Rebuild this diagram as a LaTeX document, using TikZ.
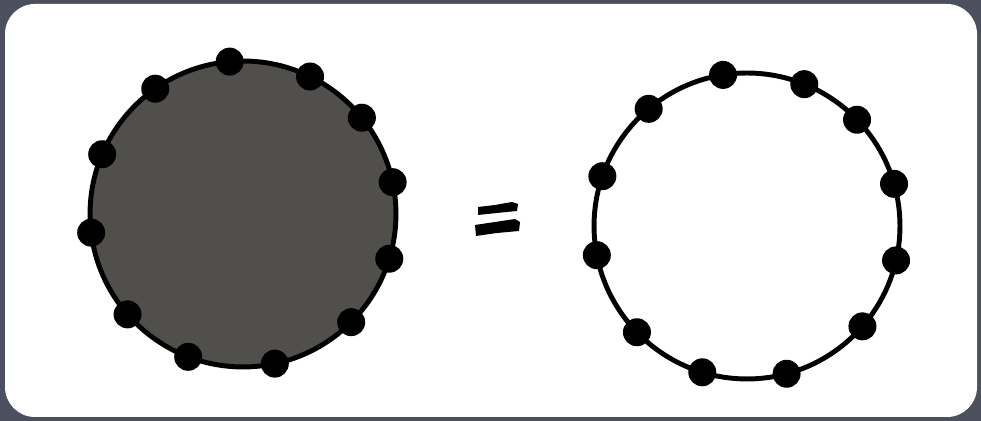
\documentclass[tikz,border=0pt]{standalone}
\usetikzlibrary{positioning}
\definecolor{slate}{RGB}{76,80,94}
\definecolor{disc}{RGB}{80,79,75}
\tikzset{
  bead/.style={circle,fill=black,inner sep=0pt,minimum size=0.56cm},
  ring/.style={line width=2.8pt}
}
\begin{document}
\begin{tikzpicture}[x=0.02cm,y=-0.02cm]
\fill[slate] (0,0) rectangle (981,421);
\fill[white,rounded corners=0.6cm] (5,4) rectangle (977,417);
\coordinate (lc) at (243,214);
\coordinate (rc) at (747,226);
\draw[ring,fill=disc] (lc) circle[radius=3.06cm];
\draw[ring] (rc) circle[radius=3.06cm];
\foreach \a [count=\i] in {95,64,39,12,-17,-45,-78,-111,-139,-173,157,125}
  \node[bead] (l\i) at ([shift={(\a:3.06cm)}]lc) {};
\foreach \a [count=\i] in {99,68,44,16,-13,-41,-75,-107,-136,-169,161,130}
  \node[bead] (r\i) at ([shift={(\a:3.06cm)}]rc) {};
\fill (478,207) -- (495,205) -- (512,202) -- (518,204) -- (517,211) -- (497,213) -- (478,215) -- cycle;
\fill (475,225) -- (495,222) -- (515,219) -- (520,222) -- (519,231) -- (497,233) -- (476,236) -- cycle;
\end{tikzpicture}
\end{document}
